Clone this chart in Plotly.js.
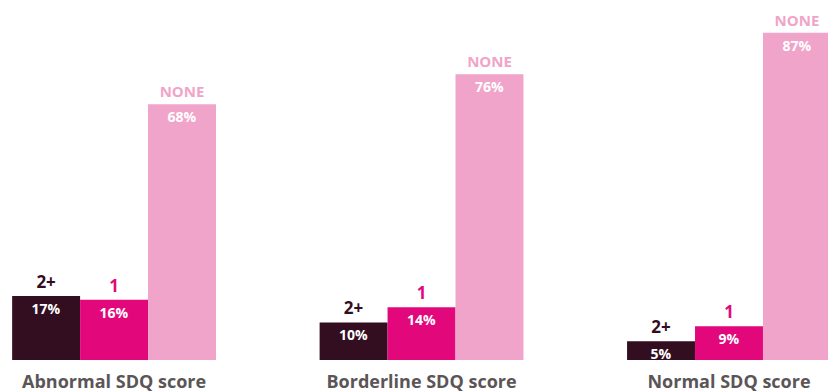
<!DOCTYPE html>
<html>
<head>
<meta charset="utf-8">
<script src="https://cdn.plot.ly/plotly-3.0.1.min.js"></script>
<style>html,body{margin:0;padding:0;background:#fff;}#chart{width:828px;height:392px;}</style>
</head>
<body>
<div id="chart"></div>
<script>
const categories = ['Abnormal SDQ score', 'Borderline SDQ score', 'Normal SDQ score'];
const seriesNames = ['2+', '1', 'NONE'];
const twoPlus = [17, 10, 5];
const one = [16, 14, 9];
const none = [68, 76, 87];
const seriesValues = [twoPlus, one, none];
const seriesColors = ['#330d20', '#e2087c', '#f1a4c9'];
const nameSizes = [17, 17, 15];

const FONT = '"Open Sans", Lato, sans-serif';
const traces = [];
seriesValues.forEach((vals, i) => {
  traces.push({
    type: 'bar', x: categories, y: vals, name: seriesNames[i],
    offsetgroup: 'g' + i,
    marker: {color: seriesColors[i], line: {width: 0}},
    text: vals.map(() => '<b>' + seriesNames[i] + '</b>'),
    textposition: 'outside', cliponaxis: false,
    outsidetextfont: {family: FONT, size: nameSizes[i], color: seriesColors[i]},
    hoverinfo: 'skip', showlegend: false
  });
  traces.push({
    type: 'bar', x: categories, y: vals,
    offsetgroup: 'g' + i,
    marker: {color: 'rgba(0,0,0,0)', line: {width: 0}},
    text: vals.map(v => '<b>' + v + '%</b>'),
    textposition: 'inside', insidetextanchor: 'end', constraintext: 'none',
    insidetextfont: {family: FONT, size: 14, color: '#ffffff'},
    hoverinfo: 'skip', showlegend: false
  });
});

const layout = {
  width: 828, height: 392,
  margin: {l: 0, r: 0, t: 0, b: 32},
  paper_bgcolor: '#ffffff', plot_bgcolor: '#ffffff',
  barmode: 'group', bargap: 0.337, bargroupgap: 0,
  showlegend: false,
  xaxis: {
    range: [-0.371, 2.322], showgrid: false, zeroline: false, showline: false,
    ticks: '', ticklabelstandoff: 9,
    tickfont: {family: FONT, size: 18, color: '#5b5557', weight: 'bold'},
    fixedrange: true
  },
  yaxis: {range: [0, 95.74], visible: false, fixedrange: true},
  font: {family: FONT}
};

Plotly.newPlot('chart', traces, layout, {displayModeBar: false, staticPlot: true});
</script>
</body>
</html>
